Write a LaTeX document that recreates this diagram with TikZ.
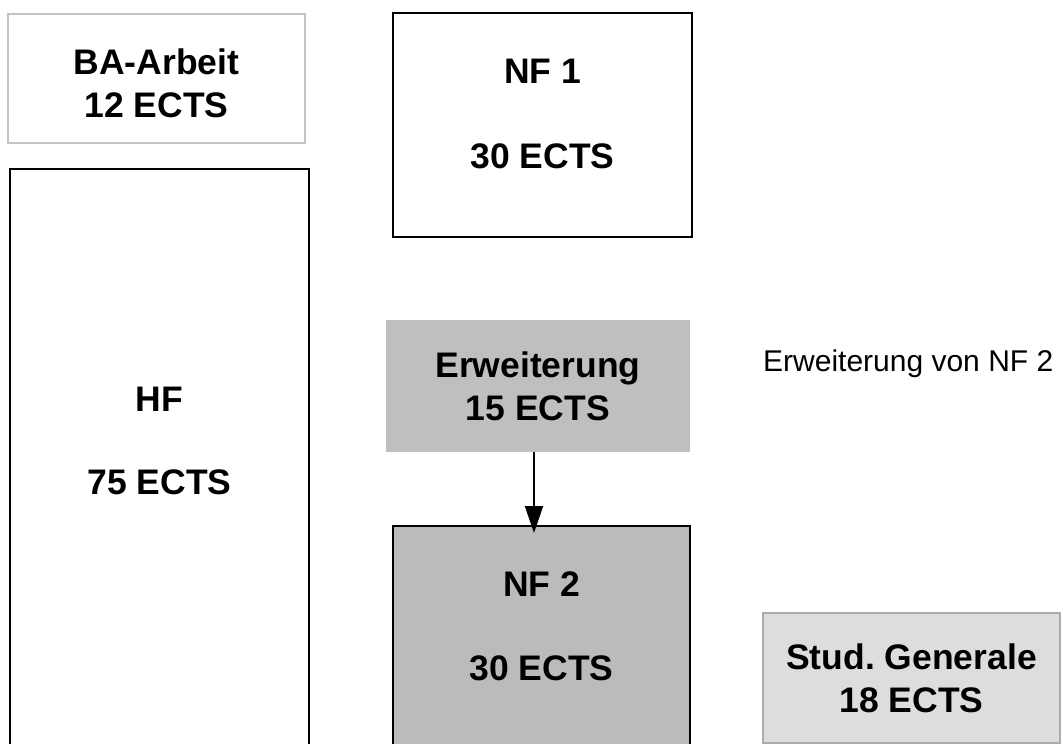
\documentclass[tikz,border=0pt]{standalone}
\usepackage{fontspec}
\setmainfont{Liberation Sans}
\usetikzlibrary{arrows.meta,positioning}
\definecolor{baframe}{HTML}{C4C4C4}
\definecolor{erwfill}{HTML}{BFBFBF}
\definecolor{nffill}{HTML}{BBBBBB}
\definecolor{sgfill}{HTML}{DDDDDD}
\definecolor{sgframe}{HTML}{ABABAB}
\tikzset{
    fach/.style={draw=black, line width=2pt, fill=white, inner sep=0pt, align=center,
        font=\fontsize{35.5}{43}\selectfont\bfseries},
    fachtext/.style={inner sep=0pt, align=center, font=\fontsize{35.5}{43}\selectfont\bfseries},
    pfeil/.style={line width=2pt, -{Triangle[length=27pt,width=18pt]}}
}

\begin{document}
\begin{tikzpicture}[x=1pt,y=-1pt]
\clip (0,0) rectangle (1063,744);
\node[fach, draw=baframe, minimum width=297pt, minimum height=129pt] (ba) at (156.5,78.5) {};
\node[fachtext] (batext) at ([yshift=-5pt]ba.center) {BA-Arbeit\\12 ECTS};
\node[fach, anchor=north, minimum width=299pt, minimum height=700pt] (hf) at (159.5,168) {};
\node[fachtext, below=219pt of hf.north] (hftext) {HF\\[40pt]75 ECTS};
\node[fach, minimum width=299pt, minimum height=224pt] (nfa) at (542.5,125) {};
\node[fachtext] (nfatext) at ([yshift=11pt]nfa.center) {NF 1\\[42pt]30 ECTS};
\node[fach, draw=erwfill, fill=erwfill, minimum width=302pt, minimum height=130pt] (erw) at (538,386) {Erweiterung\\15 ECTS};
\node[fach, fill=nffill, anchor=north, minimum width=297pt, minimum height=700pt] (nfb) at (541.5,525) {};
\node[fachtext, below=47pt of nfb.north] (nfbtext) {NF 2\\[41pt]30 ECTS};
\node[fach, draw=sgframe, fill=sgfill, minimum width=297pt, minimum height=130pt] (sg) at (911.5,678) {Stud.\ Generale\\18 ECTS};
\node[anchor=west, inner sep=0pt, font=\fontsize{30}{36}\selectfont] (erwnote) at (763,364) {Erweiterung von NF 2};
\draw[pfeil, shorten >=-8pt] ([xshift=-4pt]erw.south) -- ([xshift=-4pt]erw.south |- nfb.north);
\end{tikzpicture}
\end{document}
